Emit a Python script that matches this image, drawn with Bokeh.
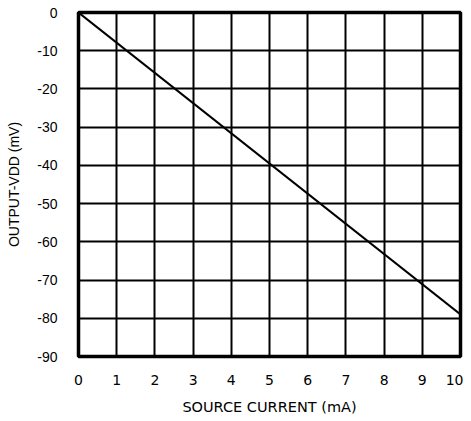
from bokeh.plotting import figure
from bokeh.embed import file_html
from bokeh.resources import INLINE
from bokeh.models import FixedTicker, Range1d

current_ma = [0, 10]
output_mv = [0, -79]
x_ticks = [0, 1, 2, 3, 4, 5, 6, 7, 8, 9, 10]
y_ticks = [0, -10, -20, -30, -40, -50, -60, -70, -80, -90]

p = figure(width=463, height=417, output_backend="svg", toolbar_location=None,
           x_range=Range1d(0, 10), y_range=Range1d(-90, 0),
           min_border_left=78, min_border_right=3, min_border_top=12, min_border_bottom=60)

p.line(current_ma, output_mv, line_color="black", line_width=2)

p.outline_line_color = "black"
p.outline_line_width = 3.5
p.background_fill_color = "white"

for ax in (p.xaxis[0], p.yaxis[0]):
    ax.axis_line_color = None
    ax.major_tick_line_color = None
    ax.minor_tick_line_color = None
    ax.major_label_text_color = "black"
    ax.axis_label_text_font_style = "normal"
    ax.axis_label_text_color = "black"

p.xaxis.major_label_text_font = "DejaVu Sans"
p.xaxis.major_label_text_font_size = "14px"
p.xaxis.axis_label_text_font = "DejaVu Sans"
p.xaxis.axis_label_text_font_size = "14.5px"
p.yaxis.major_label_text_font = "Liberation Sans"
p.yaxis.major_label_text_font_size = "14px"
p.yaxis.axis_label_text_font = "Liberation Sans"
p.yaxis.axis_label_text_font_size = "14px"

p.xaxis.ticker = FixedTicker(ticks=x_ticks)
p.yaxis.ticker = FixedTicker(ticks=y_ticks)
p.yaxis.major_label_overrides = {t: str(t) for t in y_ticks}
p.xaxis.axis_label = "SOURCE CURRENT (mA)"
p.yaxis.axis_label = "OUTPUT-VDD (mV)"
p.xaxis.major_label_standoff = 12
p.yaxis.major_label_standoff = 15
p.xaxis.axis_label_standoff = 11
p.yaxis.axis_label_standoff = 12

p.xgrid.ticker = FixedTicker(ticks=x_ticks[1:-1])
p.ygrid.ticker = FixedTicker(ticks=y_ticks[1:-1])
for g in (p.xgrid[0], p.ygrid[0]):
    g.grid_line_color = "black"
    g.grid_line_width = 2
    g.grid_line_alpha = 1

open("out.html", "w").write(file_html(p, INLINE))
